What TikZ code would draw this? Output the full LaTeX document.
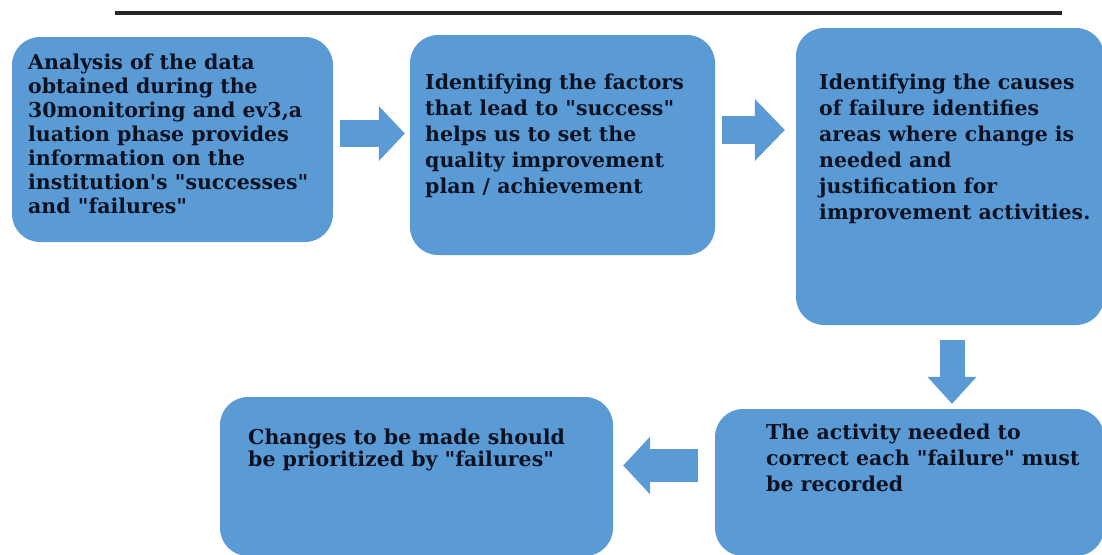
\documentclass[tikz,border=0pt]{standalone}
\usepackage{fontspec}
\newfontfamily\stepfont{DejaVu Serif}
\usetikzlibrary{arrows.meta}
\definecolor{boxblue}{RGB}{91,155,213}
\definecolor{inkdark}{RGB}{12,18,34}
\tikzset{steptext/.style={font=\stepfont\fontsize{20.5}{#1}\selectfont\bfseries}}
\begin{document}
\begin{tikzpicture}[x=1pt,y=-1pt]
	\useasboundingbox (0,0) rectangle (1102,554);
	\clip (0,0) rectangle (1102,554);
	\draw[line width=4pt,black!85] (115,13) -- (1062,13);

	\begin{scope}[every node/.style={rounded corners=28pt,fill=boxblue,inner sep=0pt}]
		\node[minimum width=321pt,minimum height=205pt] (a) at (172.5,139.5) {};
		\node[minimum width=305pt,minimum height=220pt] (b) at (562.5,145) {};
		\node[minimum width=308pt,minimum height=297pt] (c) at (950,176.5) {};
		\node[minimum width=389pt,minimum height=147pt] (d) at (909.5,482.5) {};
		\node[minimum width=393pt,minimum height=159pt] (e) at (416.5,476.5) {};
	\end{scope}

	\begin{scope}[every node/.style={anchor=north west,inner sep=0pt,align=left,text=inkdark}]
		\node[steptext=24] (a-txt) at (28,54) {Analysis of the data\\obtained during the\\30monitoring and ev3,a\\luation phase provides\\information on the\\institution's "successes"\\and "failures"};
		\node[steptext=26] (b-txt) at (425,74) {Identifying the factors\\that lead to "success"\\helps us to set the\\quality improvement\\plan / achievement};
		\node[steptext=26] (c-txt) at (819,74) {Identifying the causes\\of failure identifies\\areas where change is\\needed and\\justification for\\improvement activities.};
		\node[steptext=26] (d-txt) at (766,424) {The activity needed to\\correct each "failure" must\\be recorded};
		\node[steptext=22] (e-txt) at (248,429) {Changes to be made should\\be prioritized by "failures"};
	\end{scope}

	\begin{scope}[every path/.style={draw=boxblue}]
		\draw[line width=27pt,-{Triangle[width=55pt,length=26pt,line width=0pt]}]
			([xshift=7pt]a.east |- 0,133.5) -- ([xshift=-5pt]b.west |- 0,133.5);
		\draw[line width=28pt,-{Triangle[width=62pt,length=30pt,line width=0pt]}]
			([xshift=7pt]b.east |- 0,130) -- ([xshift=-11pt]c.west |- 0,130);
		\draw[line width=25pt,-{Triangle[width=49pt,length=27pt,line width=0pt]}]
			([yshift=-15pt]c.south -| 952,0) -- ([yshift=5pt]d.north -| 952,0);
		\draw[line width=33pt,-{Triangle[width=58pt,length=27pt,line width=0pt]}]
			([xshift=-17pt]d.west |- 0,465.5) -- ([xshift=10pt]e.east |- 0,465.5);
	\end{scope}
\end{tikzpicture}
\end{document}
